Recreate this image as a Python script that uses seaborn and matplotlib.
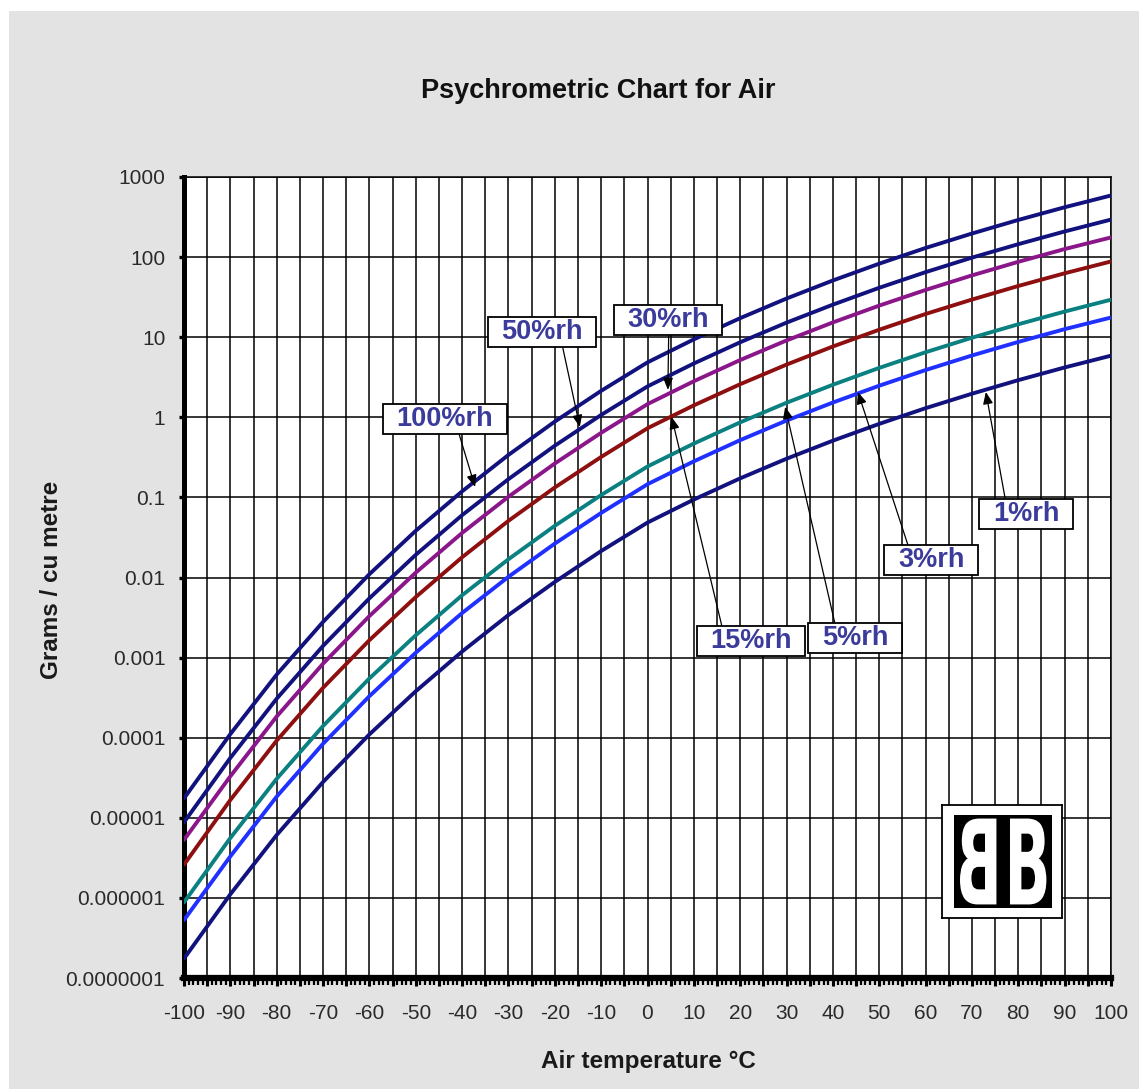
import numpy as np
import pandas as pd
import matplotlib
matplotlib.use('Agg')
import matplotlib.pyplot as plt
import seaborn as sns
from matplotlib.ticker import FixedLocator, FixedFormatter, MultipleLocator, FuncFormatter, NullLocator
from matplotlib.patches import Rectangle, PathPatch
from matplotlib.textpath import TextPath
from matplotlib.font_manager import FontProperties
from matplotlib.path import Path

# ---------------- data (g / m3 at each 10 degC) ----------------
temps = [-100, -90, -80, -70, -60, -50, -40, -30, -20, -10, 0,
         10, 20, 30, 40, 50, 60, 70, 80, 90, 100]
rh100 = [1.75e-5, 1.11e-4, 6.14e-4, 2.79e-3, 0.0110, 0.0383, 0.119, 0.339, 0.884, 2.14, 4.85,
         9.40, 17.3, 30.4, 51.1, 82.8, 130, 197, 291, 419, 588]
rh50 = [8.8e-6, 5.6e-5, 3.07e-4, 1.40e-3, 0.0055, 0.0192, 0.060, 0.169, 0.442, 1.07, 2.43,
        4.70, 8.65, 15.2, 25.5, 41.4, 64.9, 98.5, 145, 209, 294]
rh30 = [5.3e-6, 3.3e-5, 1.84e-4, 8.4e-4, 0.0033, 0.0115, 0.036, 0.102, 0.265, 0.64, 1.46,
        2.82, 5.19, 9.11, 15.3, 24.8, 38.9, 59.1, 87.3, 126, 176]
rh15 = [2.6e-6, 1.67e-5, 9.2e-5, 4.2e-4, 0.00165, 0.0057, 0.0179, 0.051, 0.133, 0.32, 0.73,
        1.41, 2.59, 4.55, 7.66, 12.4, 19.5, 29.5, 43.6, 62.8, 88.2]
rh5 = [8.8e-7, 5.6e-6, 3.07e-5, 1.40e-4, 5.5e-4, 0.0019, 0.0060, 0.0169, 0.0442, 0.107, 0.243,
       0.47, 0.865, 1.52, 2.55, 4.14, 6.49, 9.85, 14.5, 20.9, 29.4]
rh3 = [5.3e-7, 3.3e-6, 1.84e-5, 8.4e-5, 3.3e-4, 0.00115, 0.0036, 0.0102, 0.0265, 0.064, 0.146,
       0.282, 0.519, 0.911, 1.53, 2.48, 3.89, 5.91, 8.73, 12.6, 17.6]
rh1 = [1.75e-7, 1.11e-6, 6.1e-6, 2.8e-5, 1.10e-4, 3.8e-4, 0.00119, 0.0034, 0.0088, 0.0214, 0.0485,
       0.094, 0.173, 0.304, 0.511, 0.828, 1.30, 1.97, 2.91, 4.19, 5.88]

series = {'100%rh': rh100, '50%rh': rh50, '30%rh': rh30, '15%rh': rh15,
          '5%rh': rh5, '3%rh': rh3, '1%rh': rh1}
colors = {'100%rh': '#12127f', '50%rh': '#12127f', '30%rh': '#8a168a', '15%rh': '#8e0f0f',
          '5%rh': '#0a8080', '3%rh': '#1f30ff', '1%rh': '#12127f'}

ytick_vals = [1e-7, 1e-6, 1e-5, 1e-4, 1e-3, 1e-2, 1e-1, 1, 10, 100, 1000]
ytick_labels = ['0.0000001', '0.000001', '0.00001', '0.0001', '0.001', '0.01', '0.1',
                '1', '10', '100', '1000']

# label text position (temp, g/m3), arrow tip (temp, g/m3), arrow start on box (relx, rely)
labels = ['100%rh', '50%rh', '30%rh', '15%rh', '5%rh', '3%rh', '1%rh']
label_pos = [(-43.7, 0.95), (-22.8, 11.6), (4.4, 16.4), (22.3, 0.00161),
             (44.8, 0.00176), (61.2, 0.0165), (81.7, 0.062)]
arrow_tip = [(-37.2, 0.135), (-14.6, 0.757), (4.4, 2.2), (5.2, 1.01),
             (29.7, 1.35), (45.4, 2.07), (73.0, 2.07)]
arrow_rel = [(0.64, 0), (0.75, 0), (0.51, 0), (0.15, 1), (0.2, 1), (0.16, 1), (0.19, 1)]

df = pd.concat([pd.DataFrame({'temp': temps, 'gm3': v, 'rh': k}) for k, v in series.items()],
               ignore_index=True)

sns.set_theme(style='white')
plt.rcParams['font.family'] = ['Liberation Sans', 'DejaVu Sans']

W, H = 1139, 1089
fig = plt.figure(figsize=(W / 100, H / 100), dpi=100, facecolor='white')
bg = Rectangle((9 / W, 0), 1, 1 - 11 / H, transform=fig.transFigure,
               facecolor='#e3e3e3', edgecolor='none', zorder=-10)
fig.add_artist(bg)

ax = fig.add_axes([184 / W, 111 / H, 927 / W, 801 / H])
ax.set_facecolor('white')
ax.set_yscale('log')
sns.lineplot(data=df, x='temp', y='gm3', hue='rh', palette=colors, lw=2.8,
             estimator=None, sort=False, legend=False, ax=ax, zorder=3)
ax.set_xlim(-100, 100)
ax.set_ylim(1e-7, 1e3)

# grid + ticks
ax.xaxis.set_major_locator(MultipleLocator(5))
ax.xaxis.set_minor_locator(MultipleLocator(1))
ax.xaxis.set_major_formatter(FuncFormatter(
    lambda v, p: f'{int(round(v))}' if int(round(v)) % 10 == 0 else ''))
ax.yaxis.set_major_locator(FixedLocator(ytick_vals))
ax.yaxis.set_major_formatter(FixedFormatter(ytick_labels))
ax.yaxis.set_minor_locator(NullLocator())
ax.grid(True, which='major', color='black', lw=1.1)
ax.set_axisbelow(True)

ax.tick_params(axis='x', which='major', direction='out', length=6, width=2.2,
               color='black', pad=13, labelsize=15, labelcolor='#2a2a2a', bottom=True)
ax.tick_params(axis='x', which='minor', direction='out', length=5, width=1.6,
               color='black', bottom=True)
ax.tick_params(axis='y', which='major', direction='out', length=3.5, width=2.4,
               color='black', pad=10, labelsize=15, labelcolor='#2a2a2a', left=True)

for s in ['top', 'right']:
    ax.spines[s].set_color('black')
    ax.spines[s].set_linewidth(1.1)
ax.spines['left'].set_color('black')
ax.spines['left'].set_linewidth(3.6)
ax.spines['bottom'].set_color('black')
ax.spines['bottom'].set_linewidth(4.5)

# titles
fig.text(598.5 / W, 1 - 98 / H, 'Psychrometric Chart for Air', ha='center', va='baseline',
         fontsize=19.5, fontweight='bold', color='#111111')
ax.set_xlabel('Air temperature °C', fontsize=17.5, fontweight='bold', color='#1a1a1a')
ax.xaxis.set_label_coords((648.5 - 184) / 927, (978 - 1050) / 801)
ax.set_ylabel('Grams / cu metre', fontsize=17.5, fontweight='bold', color='#1a1a1a')
ax.yaxis.set_label_coords((63 - 184) / 927, (978 - 580) / 801)


def wide_box(x0, y0, width, height, mutation_size):
    padx = 0.5 * mutation_size
    pady = 0.08 * mutation_size
    x0, y0 = x0 - padx, y0 - pady
    x1, y1 = x0 + width + 2 * padx, y0 + height + 2 * pady
    return Path([(x0, y0), (x1, y0), (x1, y1), (x0, y1), (x0, y0)], closed=True)


for lab, pos, tip, rel in zip(labels, label_pos, arrow_tip, arrow_rel):
    ax.annotate(lab, xy=tip, xytext=pos, textcoords='data', ha='center', va='center',
                fontsize=19.5, fontweight='bold', color='#3b3b9b',
                bbox=dict(boxstyle=wide_box, fc='white', ec='black', lw=1.3),
                arrowprops=dict(arrowstyle='-|>,head_length=0.6,head_width=0.25', color='black',
                                lw=0.9, relpos=rel, shrinkA=0, shrinkB=0, mutation_scale=12),
                zorder=5)

# logo
lax = fig.add_axes([942 / W, 1 - 918 / H, 120 / W, 113 / H])
lax.set_xlim(0, 1)
lax.set_ylim(0, 1)
lax.set_xticks([])
lax.set_yticks([])
lax.set_facecolor('white')
for s in lax.spines.values():
    s.set_color('black')
    s.set_linewidth(1.3)
lax.add_patch(Rectangle((0.1, 0.088), 0.817, 0.824, facecolor='black', edgecolor='none'))
tp = TextPath((0, 0), 'B', size=10, prop=FontProperties(family='DejaVu Sans', weight='bold'))
verts = tp.vertices.copy()
bx0, by0 = verts.min(axis=0)
bx1, by1 = verts.max(axis=0)
norm = (verts - [bx0, by0]) / [bx1 - bx0, by1 - by0]
for (x0, x1, mirror) in [(0.15, 0.5, True), (0.52, 0.87, False)]:
    nx = 1 - norm[:, 0] if mirror else norm[:, 0]
    v = np.column_stack([x0 + nx * (x1 - x0), 0.12 + norm[:, 1] * 0.76])
    lax.add_patch(PathPatch(Path(v, tp.codes), facecolor='white', edgecolor='none'))

fig.savefig('out.png', dpi=100, facecolor=fig.get_facecolor())
